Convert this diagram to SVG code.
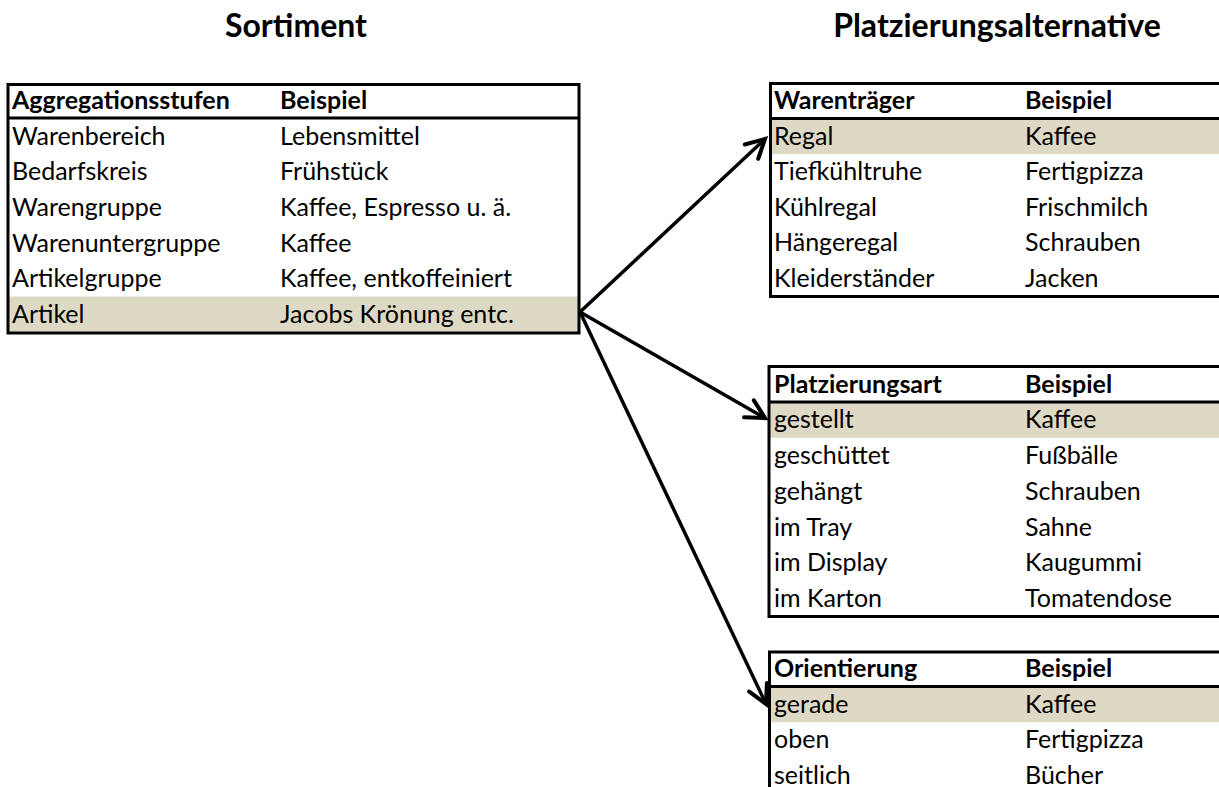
<svg xmlns="http://www.w3.org/2000/svg" width="1219" height="787" viewBox="0 0 1219 787">
  <style>
    .title { font-family: Lato, "Liberation Sans", sans-serif; font-weight: bold; font-size: 32px; fill: #000; text-anchor: middle; }
    .hd { font-family: Lato, "Liberation Sans", sans-serif; font-weight: bold; font-size: 25px; fill: #000; }
    .td { font-family: Lato, "Liberation Sans", sans-serif; font-size: 25px; fill: #000; }
    .hl { fill: #DDD9C4; }
    .bd { stroke: #000; stroke-width: 3; fill: none; }
    .conn { stroke: #000; stroke-width: 3.5; fill: none; marker-end: url(#openArrow); }
  </style>
  <defs>
    <marker id="openArrow" markerUnits="userSpaceOnUse" markerWidth="30" markerHeight="30" viewBox="-22 -12 26 24" refX="0" refY="0" orient="auto">
      <path d="M -16 -8.5 L 0 0 L -16 8.5" fill="none" stroke="#000" stroke-width="3.5" stroke-linejoin="miter" stroke-linecap="round"/>
    </marker>
  </defs>

  <rect width="1219" height="787" fill="#fff"/>

  <!-- headings -->
  <text class="title" x="296" y="37">Sortiment</text>
  <text class="title" x="997" y="37">Platzierungsalternative</text>

  <!-- assortment hierarchy -->
  <g id="sortiment">
    <rect class="hl" x="8" y="296.5" width="571" height="35.7"/>
    <rect class="bd" x="8" y="84.5" width="571" height="248.5"/>
    <line class="bd" x1="8" y1="118" x2="579" y2="118"/>
    <text class="hd" x="12" y="108.5">Aggregationsstufen</text>
    <text class="hd" x="280" y="108.5">Beispiel</text>
    <text class="td" x="12" y="144.5">Warenbereich</text>
    <text class="td" x="280" y="144.5">Lebensmittel</text>
    <text class="td" x="12" y="180.2">Bedarfskreis</text>
    <text class="td" x="280" y="180.2">Frühstück</text>
    <text class="td" x="12" y="215.9">Warengruppe</text>
    <text class="td" x="280" y="215.9">Kaffee, Espresso u. ä.</text>
    <text class="td" x="12" y="251.6">Warenuntergruppe</text>
    <text class="td" x="280" y="251.6">Kaffee</text>
    <text class="td" x="12" y="287.3">Artikelgruppe</text>
    <text class="td" x="280" y="287.3">Kaffee, entkoffeiniert</text>
    <text class="td" x="12" y="322.5">Artikel</text>
    <text class="td" x="280" y="322.5">Jacobs Krönung entc.</text>
  </g>

  <!-- shelf types -->
  <g id="warentraeger">
    <rect class="hl" x="770.5" y="118.5" width="448.5" height="35.6"/>
    <path class="bd" d="M1219 83.5 H770.5 V296.5 H1219"/>
    <line class="bd" x1="770.5" y1="118.5" x2="1219" y2="118.5"/>
    <text class="hd" x="774" y="109">Warenträger</text>
    <text class="hd" x="1025" y="109">Beispiel</text>
    <text class="td" x="774" y="144.6">Regal</text>
    <text class="td" x="1025" y="144.6">Kaffee</text>
    <text class="td" x="774" y="180.2">Tiefkühltruhe</text>
    <text class="td" x="1025" y="180.2">Fertigpizza</text>
    <text class="td" x="774" y="215.8">Kühlregal</text>
    <text class="td" x="1025" y="215.8">Frischmilch</text>
    <text class="td" x="774" y="251.4">Hängeregal</text>
    <text class="td" x="1025" y="251.4">Schrauben</text>
    <text class="td" x="774" y="287">Kleiderständer</text>
    <text class="td" x="1025" y="287">Jacken</text>
  </g>

  <!-- placement types -->
  <g id="platzierungsart">
    <rect class="hl" x="769" y="402" width="450" height="35.75"/>
    <path class="bd" d="M1219 366.5 H769 V616.5 H1219"/>
    <line class="bd" x1="769" y1="402" x2="1219" y2="402"/>
    <text class="hd" x="774" y="392.5">Platzierungsart</text>
    <text class="hd" x="1025" y="392.5">Beispiel</text>
    <text class="td" x="774" y="428.3">gestellt</text>
    <text class="td" x="1025" y="428.3">Kaffee</text>
    <text class="td" x="774" y="464">geschüttet</text>
    <text class="td" x="1025" y="464">Fußbälle</text>
    <text class="td" x="774" y="499.8">gehängt</text>
    <text class="td" x="1025" y="499.8">Schrauben</text>
    <text class="td" x="774" y="535.5">im Tray</text>
    <text class="td" x="1025" y="535.5">Sahne</text>
    <text class="td" x="774" y="571.3">im Display</text>
    <text class="td" x="1025" y="571.3">Kaugummi</text>
    <text class="td" x="774" y="607">im Karton</text>
    <text class="td" x="1025" y="607">Tomatendose</text>
  </g>

  <!-- orientation -->
  <g id="orientierung">
    <rect class="hl" x="769.5" y="686.5" width="449.5" height="35.7"/>
    <path class="bd" d="M1219 652 H769.5 V790"/>
    <line class="bd" x1="769.5" y1="686.5" x2="1219" y2="686.5"/>
    <text class="hd" x="774" y="677">Orientierung</text>
    <text class="hd" x="1025" y="677">Beispiel</text>
    <text class="td" x="774" y="712.7">gerade</text>
    <text class="td" x="1025" y="712.7">Kaffee</text>
    <text class="td" x="774" y="748.4">oben</text>
    <text class="td" x="1025" y="748.4">Fertigpizza</text>
    <text class="td" x="774" y="784.1">seitlich</text>
    <text class="td" x="1025" y="784.1">Bücher</text>
  </g>

  <!-- connectors -->
  <g id="connectors">
    <line class="conn" x1="580" y1="312" x2="765" y2="139"/>
    <line class="conn" x1="580" y1="312" x2="765" y2="418"/>
    <line class="conn" x1="580" y1="312" x2="766" y2="704"/>
  </g>
</svg>
